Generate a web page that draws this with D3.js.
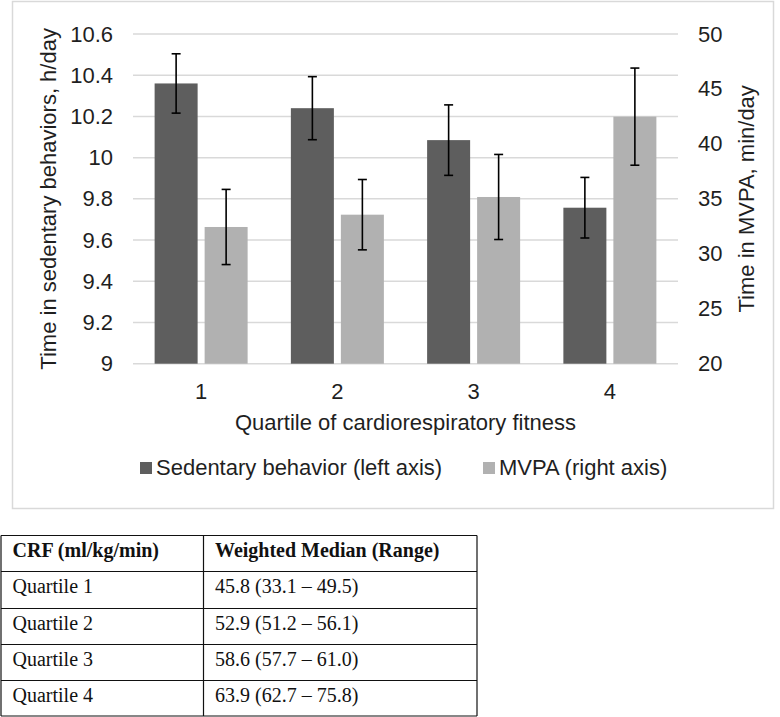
<!DOCTYPE html>
<html>
<head>
<meta charset="utf-8">
<script src="https://cdn.jsdelivr.net/npm/d3@7"></script>
<style>
  html, body { margin: 0; padding: 0; background: #fff; }
  svg { display: block; }
</style>
</head>
<body>
<svg id="chart" width="780" height="717"></svg>
<script>
// ---- data ----
const categories = ["1", "2", "3", "4"];
const seriesNames = ["Sedentary behavior (left axis)", "MVPA (right axis)"];
const sedentaryValues = [10.36, 10.24, 10.085, 9.757];
const sedentaryErrors = [0.144, 0.153, 0.171, 0.147];
const mvpaValues = [32.44, 33.56, 35.17, 42.48];
const mvpaErrors = [3.42, 3.2, 3.87, 4.42];
const leftTicks = [9, 9.2, 9.4, 9.6, 9.8, 10, 10.2, 10.4, 10.6];
const rightTicks = [20, 25, 30, 35, 40, 45, 50];
const tableHeader = ["CRF (ml/kg/min)", "Weighted Median (Range)"];
const tableRows = [
  ["Quartile 1", "45.8 (33.1 \u2013 49.5)"],
  ["Quartile 2", "52.9 (51.2 \u2013 56.1)"],
  ["Quartile 3", "58.6 (57.7 \u2013 61.0)"],
  ["Quartile 4", "63.9 (62.7 \u2013 75.8)"]
];

// ---- layout ----
const svg = d3.select("#chart");
const font = "'Liberation Sans', Arial, sans-serif";
const serif = "'Liberation Serif', 'Times New Roman', serif";
const textColor = "#1f1f1f";
const colors = ["#5e5e5e", "#b1b1b1"];
const plot = { left: 133, right: 678, top: 34, bottom: 363.7 };

// chart border
svg.append("rect")
  .attr("x", 12.5).attr("y", 1.5)
  .attr("width", 761).attr("height", 507)
  .attr("fill", "#fff").attr("stroke", "#d9d9d9").attr("stroke-width", 1.5);

const yL = d3.scaleLinear().domain([9, 10.6]).range([plot.bottom, plot.top]);
const yR = d3.scaleLinear().domain([20, 50]).range([plot.bottom, plot.top]);
const x0 = d3.scaleBand().domain(categories).range([plot.left, plot.right])
  .paddingInner(0.3174).paddingOuter(0.1587);
const x1 = d3.scaleBand().domain(seriesNames).range([0, x0.bandwidth()])
  .paddingInner(0.14).paddingOuter(0);

// gridlines
svg.append("g").selectAll("line").data(leftTicks).join("line")
  .attr("x1", plot.left).attr("x2", plot.right)
  .attr("y1", d => yL(d)).attr("y2", d => yL(d))
  .attr("stroke", "#d9d9d9").attr("stroke-width", 1.5);

// left axis
const leftAxis = svg.append("g").attr("transform", `translate(${plot.left},0)`)
  .call(d3.axisLeft(yL).tickValues(leftTicks).tickSize(0).tickPadding(20)
    .tickFormat(d => d3.format("")(+d.toFixed(1))));
leftAxis.select(".domain").remove();
leftAxis.selectAll("text").attr("font-family", font).attr("font-size", 22).attr("fill", textColor);

// right axis
const rightAxis = svg.append("g").attr("transform", `translate(${plot.right},0)`)
  .call(d3.axisRight(yR).tickValues(rightTicks).tickSize(0).tickPadding(20));
rightAxis.select(".domain").remove();
rightAxis.selectAll("text").attr("font-family", font).attr("font-size", 22).attr("fill", textColor);

// bottom axis labels
const bottomAxis = svg.append("g").attr("transform", `translate(0,${plot.bottom})`)
  .call(d3.axisBottom(x0).tickSize(0).tickPadding(20));
bottomAxis.select(".domain").remove();
bottomAxis.selectAll("text").attr("font-family", font).attr("font-size", 22).attr("fill", textColor);

// bars
const rows = categories.map((c, i) => ({
  cat: c,
  items: [
    { s: seriesNames[0], v: sedentaryValues[i], e: sedentaryErrors[i], y: yL, color: colors[0] },
    { s: seriesNames[1], v: mvpaValues[i], e: mvpaErrors[i], y: yR, color: colors[1] }
  ]
}));

const groups = svg.append("g").selectAll("g").data(rows).join("g")
  .attr("transform", d => `translate(${x0(d.cat)},0)`);

groups.selectAll("rect").data(d => d.items).join("rect")
  .attr("x", d => x1(d.s))
  .attr("width", x1.bandwidth())
  .attr("y", d => d.y(d.v))
  .attr("height", d => plot.bottom - d.y(d.v))
  .attr("fill", d => d.color);

// error bars
const eb = groups.selectAll("g.err").data(d => d.items).join("g").attr("class", "err");
const cap = 4.5;
eb.append("line")
  .attr("x1", d => x1(d.s) + x1.bandwidth() / 2).attr("x2", d => x1(d.s) + x1.bandwidth() / 2)
  .attr("y1", d => d.y(d.v + d.e)).attr("y2", d => d.y(d.v - d.e))
  .attr("stroke", "#000").attr("stroke-width", 1.6);
eb.append("line")
  .attr("x1", d => x1(d.s) + x1.bandwidth() / 2 - cap).attr("x2", d => x1(d.s) + x1.bandwidth() / 2 + cap)
  .attr("y1", d => d.y(d.v + d.e)).attr("y2", d => d.y(d.v + d.e))
  .attr("stroke", "#000").attr("stroke-width", 1.6);
eb.append("line")
  .attr("x1", d => x1(d.s) + x1.bandwidth() / 2 - cap).attr("x2", d => x1(d.s) + x1.bandwidth() / 2 + cap)
  .attr("y1", d => d.y(d.v - d.e)).attr("y2", d => d.y(d.v - d.e))
  .attr("stroke", "#000").attr("stroke-width", 1.6);

// axis titles
svg.append("text")
  .attr("transform", `translate(56,${(plot.top + plot.bottom) / 2}) rotate(-90)`)
  .attr("text-anchor", "middle")
  .attr("font-family", font).attr("font-size", 22).attr("fill", textColor)
  .text("Time in sedentary behaviors, h/day");
svg.append("text")
  .attr("transform", `translate(754,${(plot.top + plot.bottom) / 2}) rotate(-90)`)
  .attr("text-anchor", "middle")
  .attr("font-family", font).attr("font-size", 22).attr("fill", textColor)
  .text("Time in MVPA, min/day");
svg.append("text")
  .attr("x", (plot.left + plot.right) / 2).attr("y", 430)
  .attr("text-anchor", "middle")
  .attr("font-family", font).attr("font-size", 22).attr("fill", textColor)
  .text("Quartile of cardiorespiratory fitness");

// legend
const legendX = [140, 483];
const leg = svg.append("g").selectAll("g").data(seriesNames).join("g")
  .attr("transform", (d, i) => `translate(${legendX[i]},0)`);
leg.append("rect").attr("x", 0).attr("y", 462).attr("width", 12).attr("height", 12)
  .attr("fill", (d, i) => colors[i]);
leg.append("text").attr("x", 16).attr("y", 475)
  .attr("font-family", font).attr("font-size", 22).attr("fill", textColor)
  .text(d => d);

// table
const tbl = { left: 1, right: 477, mid: 203.5, top: 535.5 };
const rowLines = [535.5, 571.5, 608.5, 644.5, 680.5, 716];
const tg = svg.append("g");
tg.selectAll("line.h").data(rowLines).join("line").attr("class", "h")
  .attr("x1", tbl.left).attr("x2", tbl.right)
  .attr("y1", d => d).attr("y2", d => d)
  .attr("stroke", "#111").attr("stroke-width", 1.2);
tg.selectAll("line.v").data([tbl.left, tbl.mid, tbl.right]).join("line").attr("class", "v")
  .attr("x1", d => d).attr("x2", d => d)
  .attr("y1", rowLines[0]).attr("y2", rowLines[rowLines.length - 1])
  .attr("stroke", "#111").attr("stroke-width", 1.2);
const allRows = [tableHeader].concat(tableRows);
const colX = [12.5, 215];
allRows.forEach((r, i) => {
  r.forEach((cell, j) => {
    tg.append("text")
      .attr("x", colX[j]).attr("y", rowLines[i] + 21)
      .attr("font-family", serif).attr("font-size", 20)
      .attr("font-weight", i === 0 ? "bold" : "normal")
      .attr("fill", "#111")
      .text(cell);
  });
});
</script>
</body>
</html>
